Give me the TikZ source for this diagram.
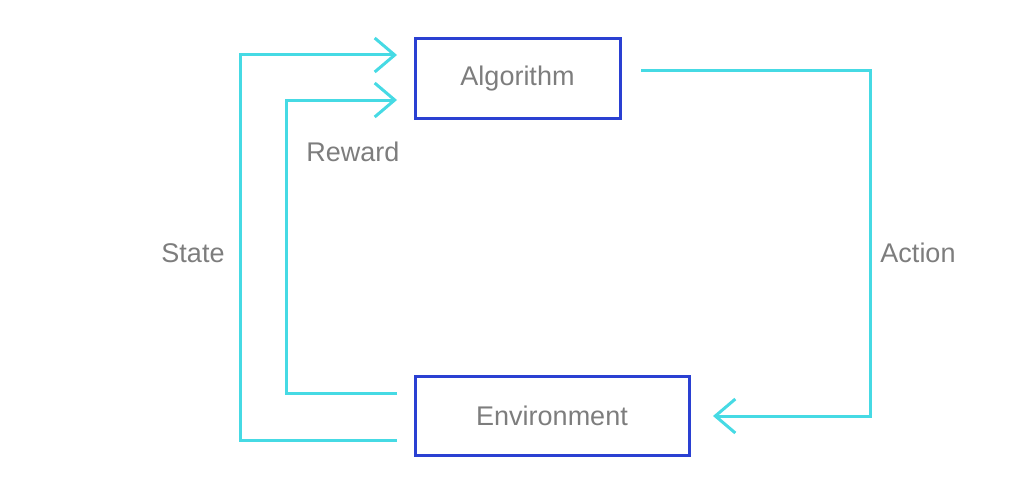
\documentclass[tikz,border=0pt]{standalone}
\usepackage{fontspec}
\setmainfont{Liberation Sans}
\usetikzlibrary{arrows.meta}
\definecolor{boxblue}{HTML}{2A40D2}
\definecolor{flow}{HTML}{46DAE4}
\definecolor{txt}{HTML}{7D7D7D}
\begin{document}
\begin{tikzpicture}[x=1pt,y=-1pt,
  blockbox/.style={draw=boxblue,line width=3pt,minimum height=79pt,inner sep=0pt,text=txt,font=\fontsize{27}{31}\selectfont},
  flowline/.style={draw=flow,line width=3pt,line join=miter},
  flowarrow/.style={flowline,-{Straight Barb[length=20pt,width=34pt,line width=3pt]}},
  lbl/.style={text=txt,font=\fontsize{27}{31}\selectfont,inner sep=0pt}]
\useasboundingbox (0,0) rectangle (1017,495);
\node[blockbox,minimum width=205pt] (alg) at (517.5,78.5) {Algorithm};
\node[blockbox,minimum width=274pt] (env) at (552,415.5) {Environment};
% free ends
\coordinate (stS) at (397,440);
\coordinate (stE) at (397,55);
\coordinate (rwS) at (397,393);
\coordinate (rwE) at (397,100);
\coordinate (acS) at (641,71);
\coordinate (acE) at (713,416);
\draw[flowarrow] (stS) -- (240,440) -- (240,55) -- (stE);
\draw[flowarrow] (rwS) -- (286,393) -- (286,100) -- (rwE);
\draw[flowarrow] (acS) -- (870,71) -- (870,416) -- (acE);
\node[lbl] (state) at (193,253) {State};
\node[lbl] (reward) at (353,152) {Reward};
\node[lbl] (action) at (918,253) {Action};
\end{tikzpicture}
\end{document}
